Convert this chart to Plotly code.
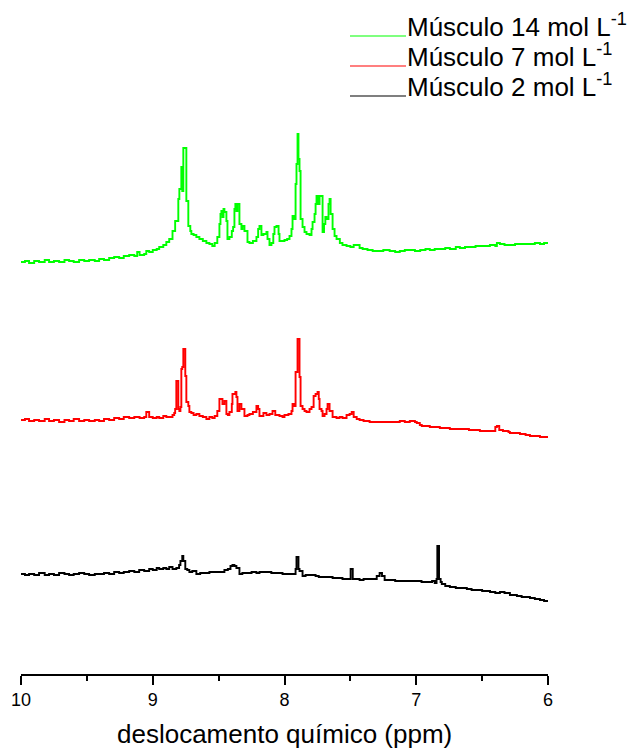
import plotly.graph_objects as go

# chemical shift (ppm) and offset intensities (a.u.)
ppm_14 = [10.000, 9.970, 9.939, 9.900, 9.863, 9.820, 9.787, 9.750, 9.711, 9.670, 9.635, 9.600, 9.559, 9.520,
          9.483, 9.440, 9.407, 9.370, 9.331, 9.293, 9.255, 9.220, 9.179, 9.140, 9.118, 9.100, 9.065, 9.049,
          9.027, 9.000, 8.970, 8.951, 8.920, 8.897, 8.875, 8.850, 8.830, 8.806, 8.798, 8.783, 8.776, 8.768,
          8.753, 8.745, 8.730, 8.715, 8.707, 8.690, 8.669, 8.646, 8.620, 8.593, 8.570, 8.548, 8.530, 8.510,
          8.494, 8.486, 8.479, 8.471, 8.463, 8.456, 8.441, 8.433, 8.418, 8.400, 8.390, 8.380, 8.373, 8.365,
          8.357, 8.342, 8.327, 8.319, 8.304, 8.281, 8.266, 8.240, 8.213, 8.200, 8.190, 8.175, 8.160, 8.137,
          8.129, 8.114, 8.099, 8.085, 8.076, 8.061, 8.045, 8.038, 8.015, 8.000, 7.980, 7.962, 7.947, 7.939,
          7.930, 7.916, 7.909, 7.901, 7.894, 7.886, 7.878, 7.863, 7.848, 7.833, 7.810, 7.795, 7.787, 7.772,
          7.764, 7.757, 7.745, 7.734, 7.719, 7.711, 7.700, 7.690, 7.681, 7.666, 7.658, 7.650, 7.635, 7.620,
          7.605, 7.580, 7.560, 7.529, 7.500, 7.475, 7.460, 7.430, 7.407, 7.370, 7.331, 7.290, 7.250, 7.202,
          7.160, 7.125, 7.087, 7.049, 7.010, 6.970, 6.930, 6.897, 6.860, 6.821, 6.780, 6.745, 6.700, 6.669,
          6.630, 6.593, 6.550, 6.517, 6.480, 6.441, 6.400, 6.388, 6.365, 6.330, 6.289, 6.250, 6.213, 6.170,
          6.137, 6.100, 6.061, 6.030, 6.000]
int_14 = [412, 413, 411, 413, 412, 414, 412, 413, 412, 414, 413, 412, 414, 413,
          414, 413, 415, 414, 416, 417, 416, 418, 419, 418, 422, 419, 420, 423,
          422, 424, 425, 427, 429, 432, 435, 443, 453, 475, 485, 507, 483, 526,
          526, 473, 448, 443, 440, 439, 437, 435, 433, 431, 430, 428, 431, 437,
          450, 460, 463, 457, 465, 462, 453, 435, 437, 443, 447, 465, 470, 463,
          470, 450, 445, 448, 443, 432, 431, 433, 437, 445, 448, 439, 440, 442,
          435, 429, 431, 440, 447, 448, 440, 433, 433, 434, 435, 438, 445, 458,
          455, 490, 510, 540, 515, 503, 455, 447, 442, 440, 439, 445, 452, 460,
          470, 478, 470, 478, 478, 442, 450, 457, 455, 470, 475, 460, 445, 438,
          435, 431, 429, 428, 427, 429, 429, 426, 425, 424, 423, 423, 424, 423,
          422, 423, 424, 424, 423, 424, 425, 424, 425, 425, 426, 425, 427, 426,
          427, 427, 428, 428, 428, 429, 428, 431, 430, 429, 429, 430, 430, 430,
          430, 431, 430, 431, 430]

ppm_7 = [10.000, 9.970, 9.939, 9.900, 9.863, 9.820, 9.787, 9.750, 9.711, 9.670, 9.635, 9.600, 9.559, 9.520,
         9.483, 9.440, 9.407, 9.370, 9.331, 9.293, 9.255, 9.220, 9.179, 9.140, 9.100, 9.065, 9.049, 9.027,
         9.000, 8.970, 8.951, 8.920, 8.897, 8.875, 8.850, 8.837, 8.830, 8.821, 8.810, 8.806, 8.798, 8.790,
         8.783, 8.776, 8.768, 8.760, 8.753, 8.745, 8.730, 8.722, 8.707, 8.690, 8.669, 8.646, 8.620, 8.593,
         8.570, 8.548, 8.530, 8.510, 8.494, 8.479, 8.471, 8.456, 8.441, 8.430, 8.418, 8.400, 8.395, 8.373,
         8.365, 8.357, 8.342, 8.327, 8.304, 8.281, 8.266, 8.240, 8.213, 8.200, 8.190, 8.160, 8.137, 8.114,
         8.091, 8.070, 8.038, 8.015, 8.000, 7.970, 7.947, 7.939, 7.930, 7.916, 7.909, 7.901, 7.894, 7.886,
         7.878, 7.863, 7.848, 7.833, 7.810, 7.795, 7.779, 7.764, 7.749, 7.740, 7.734, 7.719, 7.711, 7.696,
         7.681, 7.673, 7.658, 7.635, 7.605, 7.582, 7.560, 7.529, 7.506, 7.490, 7.475, 7.452, 7.430, 7.400,
         7.354, 7.316, 7.278, 7.240, 7.202, 7.160, 7.125, 7.087, 7.049, 7.010, 6.996, 6.973, 6.958, 6.920,
         6.897, 6.860, 6.821, 6.780, 6.745, 6.700, 6.646, 6.600, 6.550, 6.517, 6.470, 6.441, 6.400, 6.388,
         6.370, 6.342, 6.300, 6.289, 6.250, 6.213, 6.170, 6.137, 6.100, 6.061, 6.030, 6.000]
int_7 = [254, 255, 253, 254, 253, 255, 253, 254, 252, 254, 253, 255, 253, 254,
         253, 254, 253, 255, 254, 256, 255, 257, 256, 257, 256, 257, 262, 257,
         256, 257, 256, 258, 257, 257, 259, 261, 265, 293, 293, 265, 263, 267,
         305, 307, 325, 325, 298, 272, 268, 262, 261, 259, 260, 258, 257, 255,
         257, 256, 258, 263, 275, 275, 270, 273, 260, 259, 262, 270, 280, 282,
         277, 263, 270, 265, 258, 259, 260, 262, 268, 265, 258, 261, 259, 260,
         263, 259, 258, 257, 259, 260, 263, 270, 268, 302, 302, 335, 335, 297,
         268, 265, 263, 262, 265, 267, 278, 280, 282, 275, 265, 263, 258, 260,
         265, 270, 263, 257, 256, 257, 256, 259, 260, 262, 257, 255, 254, 253,
         252, 252, 252, 252, 252, 252, 253, 252, 253, 252, 251, 249, 248, 248,
         247, 247, 246, 246, 245, 245, 245, 244, 244, 243, 243, 243, 247, 248,
         244, 243, 242, 241, 241, 240, 239, 238, 238, 237, 237, 236]

ppm_2 = [10.000, 9.970, 9.939, 9.900, 9.863, 9.820, 9.787, 9.750, 9.711, 9.670, 9.635, 9.600, 9.559, 9.520,
         9.483, 9.440, 9.407, 9.370, 9.331, 9.293, 9.255, 9.220, 9.179, 9.140, 9.103, 9.065, 9.027, 9.000,
         8.970, 8.951, 8.920, 8.897, 8.875, 8.850, 8.821, 8.800, 8.790, 8.776, 8.768, 8.753, 8.738, 8.722,
         8.700, 8.669, 8.640, 8.608, 8.570, 8.532, 8.494, 8.456, 8.430, 8.410, 8.395, 8.380, 8.365, 8.342,
         8.320, 8.281, 8.250, 8.213, 8.190, 8.137, 8.100, 8.061, 8.015, 7.962, 7.939, 7.916, 7.909, 7.901,
         7.894, 7.886, 7.863, 7.840, 7.810, 7.764, 7.740, 7.711, 7.680, 7.635, 7.600, 7.560, 7.506, 7.498,
         7.490, 7.482, 7.460, 7.430, 7.400, 7.354, 7.331, 7.300, 7.278, 7.260, 7.240, 7.202, 7.160, 7.125,
         7.087, 7.049, 6.996, 6.960, 6.920, 6.880, 6.860, 6.846, 6.840, 6.833, 6.827, 6.815, 6.806, 6.780,
         6.745, 6.700, 6.646, 6.616, 6.580, 6.540, 6.500, 6.440, 6.400, 6.365, 6.330, 6.289, 6.250, 6.236,
         6.200, 6.150, 6.137, 6.100, 6.061, 6.030, 6.000]
int_2 = [100, 99, 100, 99, 101, 99, 100, 99, 101, 100, 99, 100, 101, 100,
         99, 100, 100, 101, 100, 102, 101, 102, 103, 102, 104, 103, 105, 104,
         106, 105, 106, 105, 107, 105, 106, 109, 113, 118, 113, 105, 104, 102,
         103, 100, 101, 101, 102, 102, 102, 104, 105, 108, 109, 108, 106, 100,
         101, 101, 102, 101, 102, 102, 101, 101, 100, 100, 100, 105, 117, 117,
         105, 103, 98, 99, 99, 98, 97, 97, 97, 96, 96, 95, 95, 105,
         105, 95, 95, 94, 95, 95, 95, 98, 101, 98, 94, 94, 93, 93,
         93, 93, 93, 92, 92, 93, 91, 95, 128, 128, 95, 92, 90, 88,
         87, 86, 86, 85, 84, 84, 83, 82, 81, 82, 81, 79, 79, 78,
         77, 77, 76, 75, 74, 73, 73]

series = [
    ("Músculo 14 mol L<sup>-1</sup>", ppm_14, int_14, "#00ff00"),
    ("Músculo 7 mol L<sup>-1</sup>", ppm_7, int_7, "#ff0000"),
    ("Músculo 2 mol L<sup>-1</sup>", ppm_2, int_2, "#000000"),
]
x_ticks = [10, 9, 8, 7, 6]
x_title = "deslocamento químico (ppm)"

FONT = "Arial, Liberation Sans, sans-serif"
W, H = 633, 751
ML, MR, MT, MB = 21, 85, 100, 77
PW, PH = W - ML - MR, H - MT - MB


def px(xp):
    return (xp - ML) / PW


def py(yp):
    return (H - MB - yp) / PH


fig = go.Figure()
for name, xs, ys, col in series:
    fig.add_trace(go.Scatter(x=xs, y=ys, mode="lines", name=name, line=dict(color=col, width=1.9, shape="hv"),
                             showlegend=False))

# manual legend (line sample under the text baseline, as in the reference)
leg_base = [36, 66, 96]
shapes, annots = [], []
for (name, _, _, col), b in zip(series, leg_base):
    shapes.append(dict(type="line", xref="paper", yref="paper", x0=px(350), x1=px(406), y0=py(b), y1=py(b),
                       line=dict(color=col, width=1.2)))
    annots.append(dict(text=name, xref="paper", yref="paper", x=px(405), y=py(b - 10), xanchor="left",
                       yanchor="middle", showarrow=False, font=dict(family=FONT, size=26, color="black")))

# x-axis title
annots.append(dict(text=x_title, xref="paper", yref="paper", x=0.5, y=py(734), xanchor="center",
                   yanchor="middle", showarrow=False, font=dict(family=FONT, size=26, color="black")))

fig.update_layout(
    width=W, height=H, margin=dict(l=ML, r=MR, t=MT, b=MB, autoexpand=False),
    plot_bgcolor="white", paper_bgcolor="white",
    shapes=shapes, annotations=annots,
    xaxis=dict(range=[10, 6], tickvals=x_ticks, ticktext=[str(t) for t in x_ticks], showgrid=False, zeroline=False,
               showline=True, linecolor="black", linewidth=1.5, ticks="outside", ticklen=9, tickwidth=1.5,
               tickcolor="black", minor=dict(dtick=0.5, ticks="outside", ticklen=5, tickwidth=1.5, tickcolor="black"),
               tickfont=dict(family=FONT, size=18, color="black"), automargin=False),
    yaxis=dict(range=[0, PH], visible=False, automargin=False),
)
fig.write_html("out.html")
